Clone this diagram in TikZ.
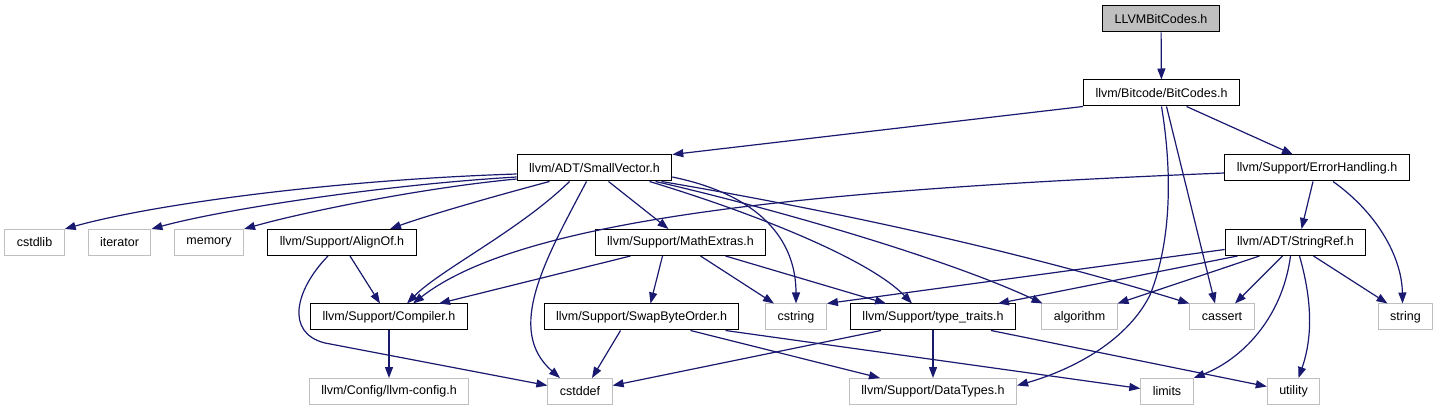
\documentclass[tikz,border=0pt]{standalone}
\usepackage{fontspec}
\setmainfont{Liberation Sans}
\usetikzlibrary{arrows.meta}
\definecolor{navy}{HTML}{191970}
\definecolor{ltgray}{HTML}{BFBFBF}

\begin{document}
\begin{tikzpicture}[x=1pt, y=-1pt, >={Triangle[length=11pt, width=8pt]},
  hdr/.style={draw=black, line width=1pt, minimum height=26pt, inner xsep=12pt, inner ysep=0pt,
    font=\fontsize{12.5}{14}\selectfont},
  ext/.style={hdr, draw=ltgray},
  dep/.style={->, draw=navy, fill=none, line width=1.2pt}]

\path[use as bounding box, fill=white] (0,0) rectangle (1437,411);

% --- Headers of the project ---
\node[hdr, fill=ltgray] (top) at (1161,19) {LLVMBitCodes.h};
\node[hdr] (bitcodes) at (1161.5,93) {llvm/Bitcode/BitCodes.h};
\node[hdr] (smallvec) at (594.5,168) {llvm/ADT/SmallVector.h};
\node[hdr] (errhand) at (1317,168) {llvm/Support/ErrorHandling.h};
\node[hdr] (alignof) at (342,242.5) {llvm/Support/AlignOf.h};
\node[hdr] (mathext) at (680.5,242.5) {llvm/Support/MathExtras.h};
\node[hdr] (stringref) at (1295.5,242.5) {llvm/ADT/StringRef.h};
\node[hdr] (compiler) at (389,317) {llvm/Support/Compiler.h};
\node[hdr] (swapbyte) at (641.5,317) {llvm/Support/SwapByteOrder.h};
\node[hdr] (typetraits) at (933,317) {llvm/Support/type\_traits.h};

% --- System and generated headers ---
\node[ext] (cstdlib) at (34.5,242.5) {cstdlib};
\node[ext] (iterator) at (119.5,242.5) {iterator};
\node[ext] (memory) at (209,242.5) {memory};
\node[ext] (cstring) at (796,317) {cstring};
\node[ext] (algorithm) at (1079.5,317) {algorithm};
\node[ext] (cassert) at (1222,317) {cassert};
\node[ext] (string) at (1405.5,317) {string};
\node[ext] (llvmconfig) at (389,391.5) {llvm/Config/llvm-config.h};
\node[ext] (cstddef) at (580,391.5) {cstddef};
\node[ext] (datatypes) at (933,391.5) {llvm/Support/DataTypes.h};
\node[ext] (limits) at (1167,391.5) {limits};
\node[ext] (utility) at (1293.5,391.5) {utility};

% top levels
\draw[dep] (top) -- (bitcodes);
\draw[dep] (bitcodes.south west) -- (smallvec.north east);
\draw[dep] ([xshift=25pt]bitcodes.south) -- ([xshift=-24pt]errhand.north);
\draw[dep] ([xshift=5pt]bitcodes.south) -- ([xshift=-7pt]cassert.north);
\draw[dep] (bitcodes.south) .. controls (1172,170) and (1172,240) .. (1150,295)
  .. controls (1125,345) and (1065,372) .. ([yshift=6pt]datatypes.east);

% SmallVector.h
\draw[dep] ([yshift=-6pt]smallvec.west) .. controls (330,180) and (150,205) .. (cstdlib.north east);
\draw[dep] ([yshift=-9pt]smallvec.west) .. controls (380,185) and (220,210) .. (iterator.north east);
\draw[dep] ([yshift=-11pt]smallvec.west) .. controls (420,188) and (300,213) .. (memory.north east);
\draw[dep] ([xshift=-45pt]smallvec.south) .. controls (480,200) and (420,218) .. ([xshift=48pt]alignof.north);
\draw[dep] ([xshift=-25pt]smallvec.south) .. controls (520,230) and (440,270) .. ([xshift=18pt]compiler.north);
\draw[dep] ([xshift=-8pt]smallvec.south) .. controls (545,260) and (505,330) .. ([xshift=-20pt]cstddef.north);
\draw[dep] ([xshift=14pt]smallvec.south) -- ([xshift=-12pt]mathext.north);
\draw[dep] ([yshift=-9pt]smallvec.east) .. controls (760,195) and (796,240) .. (cstring.north);
\draw[dep] ([xshift=55pt]smallvec.south) .. controls (760,215) and (870,260) .. ([xshift=-21pt]typetraits.north);
\draw[dep] ([xshift=61pt]smallvec.south) .. controls (780,210) and (950,260) .. ([xshift=-37pt]algorithm.north);
\draw[dep] ([xshift=67pt]smallvec.south) .. controls (800,205) and (1000,245) .. (cassert.north west);

% ErrorHandling.h
\draw[dep] ([yshift=-5pt]errhand.west) .. controls (800,190) and (520,220) .. ([xshift=24pt]compiler.north);
\draw[dep] ([xshift=-4pt]errhand.south) -- ([xshift=6pt]stringref.north);
\draw[dep] ([xshift=16pt]errhand.south) .. controls (1380,215) and (1402,260) .. ([xshift=-3pt]string.north);

% StringRef.h
\draw[dep] ([yshift=-7pt]stringref.west) -- (cstring.north east);
\draw[dep] ([xshift=-58pt]stringref.south) -- ([xshift=65pt]typetraits.north);
\draw[dep] ([xshift=-36pt]stringref.south) -- ([xshift=38pt]algorithm.north);
\draw[dep] ([xshift=-13pt]stringref.south) -- ([xshift=13pt]cassert.north);
\draw[dep] ([xshift=18pt]stringref.south) -- ([xshift=-18pt]string.north);
\draw[dep] ([xshift=-5pt]stringref.south) .. controls (1282,320) and (1240,360) .. (limits.north east);
\draw[dep] ([xshift=4pt]stringref.south) .. controls (1315,310) and (1310,345) .. ([xshift=5pt]utility.north);

% AlignOf.h and MathExtras.h
\draw[dep] ([xshift=8pt]alignof.south) -- ([xshift=-9pt]compiler.north);
\draw[dep] ([xshift=-14pt]alignof.south) .. controls (295,290) and (285,333) .. (325,343)
  -- ([yshift=6pt]cstddef.west);
\draw[dep] ([xshift=-50pt]mathext.south) -- ([xshift=50pt]compiler.north);
\draw[dep] ([xshift=-18pt]mathext.south) -- ([xshift=9pt]swapbyte.north);
\draw[dep] ([xshift=20pt]mathext.south) -- ([xshift=-22pt]cstring.north);
\draw[dep] ([xshift=45pt]mathext.south) -- ([xshift=-47pt]typetraits.north);

% bottom row
\draw[dep] (compiler) -- (llvmconfig);
\draw[dep] ([xshift=-21pt]swapbyte.south) -- ([xshift=12pt]cstddef.north);
\draw[dep] ([xshift=49pt]swapbyte.south) -- ([xshift=-53pt]datatypes.north);
\draw[dep] ([xshift=84pt]swapbyte.south) -- ([yshift=3pt]limits.west);
\draw[dep] ([xshift=-52pt]typetraits.south) -- ([yshift=6pt]cstddef.east);
\draw[dep] (typetraits) -- (datatypes);
\draw[dep] ([xshift=58pt]typetraits.south) -- ([yshift=5pt]utility.west);

\end{tikzpicture}
\end{document}
